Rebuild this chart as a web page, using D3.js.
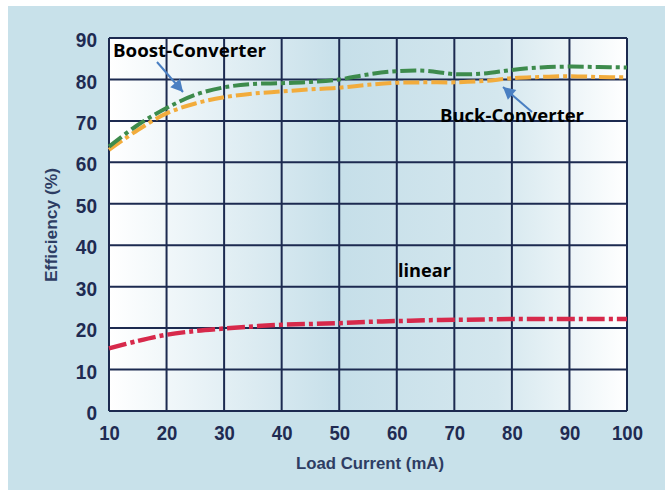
<!DOCTYPE html>
<html><head><meta charset="utf-8">
<script src="https://cdn.jsdelivr.net/npm/d3@7"></script>
<style>
html,body{margin:0;padding:0;background:#fff;}
svg{display:block;}
</style></head>
<body>
<svg id="c" width="665" height="493"></svg>
<script>
const loadCurrent = [10,15,20,25,30,35,40,45,50,55,60,65,70,75,80,85,90,95,100];
const boost  = [63.8,69.0,73.1,76.3,78.1,78.9,79.1,79.4,80.0,81.2,82.0,82.1,81.3,81.4,82.3,82.9,83.1,83.0,82.9];
const buck   = [63.0,67.8,71.8,74.2,75.7,76.6,77.1,77.6,78.0,78.7,79.2,79.3,79.3,79.6,80.3,80.6,80.8,80.6,80.5];
const linear = [15.1,16.9,18.4,19.3,19.9,20.4,20.8,21.0,21.2,21.5,21.7,21.9,22.0,22.1,22.2,22.2,22.2,22.2,22.2];
const xTicks = [10,20,30,40,50,60,70,80,90,100];
const yTicks = [0,10,20,30,40,50,60,70,80,90];

const svg = d3.select("#c");
const M = {l:109, r:627, t:38, b:411};
const x = d3.scaleLinear().domain([10,100]).range([M.l, M.r]);
const y = d3.scaleLinear().domain([0,90]).range([M.b, M.t]);

const defs = svg.append("defs");
const g1 = defs.append("linearGradient").attr("id","pg").attr("x1","0").attr("x2","1").attr("y1","0").attr("y2","0");
g1.append("stop").attr("offset","0%").attr("stop-color","#ffffff");
g1.append("stop").attr("offset","45%").attr("stop-color","#c6dfe9");
g1.append("stop").attr("offset","75%").attr("stop-color","#d4e7ee");
g1.append("stop").attr("offset","100%").attr("stop-color","#ffffff");

// outer panel
svg.append("rect").attr("x",8).attr("y",6).attr("width",657).attr("height",484).attr("fill","#c8e1ea");
// plot bg
svg.append("rect").attr("x",M.l).attr("y",M.t).attr("width",M.r-M.l).attr("height",M.b-M.t).attr("fill","url(#pg)");

// grid
const grid = svg.append("g").attr("stroke","#1c2a50").attr("stroke-width",2).attr("fill","none");
xTicks.forEach(t=>grid.append("line").attr("x1",x(t)).attr("x2",x(t)).attr("y1",y(0)).attr("y2",y(90)));
yTicks.forEach(t=>grid.append("line").attr("x1",x(10)).attr("x2",x(100)).attr("y1",y(t)).attr("y2",y(t)));

// axes labels
const fontTick = "'Liberation Sans',Arial,sans-serif";
const xa = d3.axisBottom(x).tickValues(xTicks).tickSize(0).tickPadding(14);
const ya = d3.axisLeft(y).tickValues(yTicks).tickSize(0).tickPadding(12);
const gx = svg.append("g").attr("transform",`translate(0,${M.b})`).call(xa);
const gy = svg.append("g").attr("transform",`translate(${M.l},0)`).call(ya);
[gx,gy].forEach(g=>{
  g.select(".domain").remove();
  g.selectAll("text").attr("font-family",fontTick).attr("font-weight","bold").attr("font-size",21).attr("fill","#1f2b52");
});
gx.selectAll("text").attr("textLength",d=>String(d).length*10.3).attr("lengthAdjust","spacingAndGlyphs");
gy.selectAll("text").attr("dy","0.41em").attr("textLength",d=>String(d).length*10.6).attr("lengthAdjust","spacingAndGlyphs");

svg.append("text").attr("x",370).attr("y",469).attr("text-anchor","middle")
  .attr("font-family",fontTick).attr("font-weight","bold").attr("font-size",16).attr("fill","#2e3d63")
  .attr("textLength",148).attr("lengthAdjust","spacingAndGlyphs").text("Load Current (mA)");
svg.append("text").attr("transform","translate(57,225) rotate(-90)").attr("text-anchor","middle")
  .attr("font-family",fontTick).attr("font-weight","bold").attr("font-size",16).attr("fill","#2e3d63")
  .attr("textLength",114).attr("lengthAdjust","spacingAndGlyphs").text("Efficiency (%)");

// lines
const line = d3.line().x((d,i)=>x(loadCurrent[i])).y(d=>y(d)).curve(d3.curveCatmullRom);
const series = [
  {v:buck, c:"#f2ac3c", w:4, dash:"16,4,4,4"},
  {v:boost, c:"#3d8b4c", w:4, dash:"16,4,4,4"},
  {v:linear, c:"#d7294b", w:4.5, dash:"18,4,4,4"}
];
series.forEach(s=>{
  svg.append("path").attr("d",line(s.v)).attr("fill","none").attr("stroke",s.c)
    .attr("stroke-width",s.w).attr("stroke-dasharray",s.dash);
});

// annotations
const fontAnn = "'Open Sans','Liberation Sans',Arial,sans-serif";
function ann(tx,ty,len,str){
  svg.append("text").attr("x",tx).attr("y",ty).attr("font-family",fontAnn).attr("font-weight","bold")
    .attr("font-size",18).attr("fill","#000").attr("textLength",len).attr("lengthAdjust","spacingAndGlyphs").text(str);
}
ann(113,57,153,"Boost-Converter");
ann(440,122,144,"Buck-Converter");
ann(398,277,53,"linear");

function arrow(x1,y1,x2,y2){
  const c="#4a7fc2";
  svg.append("line").attr("x1",x1).attr("y1",y1).attr("x2",x2).attr("y2",y2).attr("stroke",c).attr("stroke-width",2);
  const a=Math.atan2(y2-y1,x2-x1), L=12, W=6.5;
  const bx=x2-L*Math.cos(a), by=y2-L*Math.sin(a);
  const px=-Math.sin(a)*W, py=Math.cos(a)*W;
  svg.append("path").attr("d",`M${x2},${y2}L${bx+px},${by+py}L${bx-px},${by-py}Z`).attr("fill",c);
}
arrow(157,62,183,92);
arrow(532,112,503,87);
</script>
</body></html>
